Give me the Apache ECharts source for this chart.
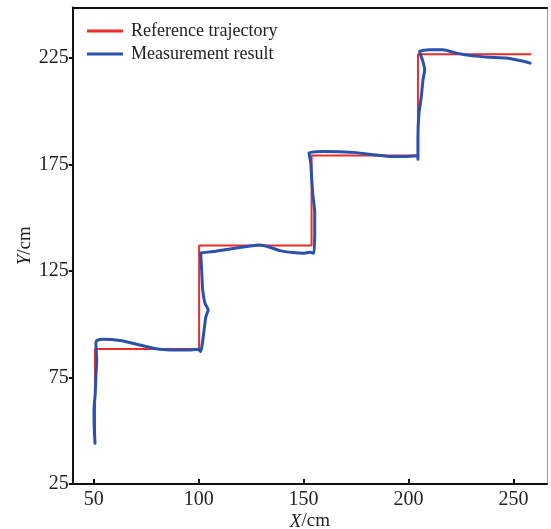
<!DOCTYPE html>
<html>
<head>
<meta charset="utf-8">
<script src="https://cdn.jsdelivr.net/npm/echarts@6/dist/echarts.min.js"></script>
<style>html,body{margin:0;padding:0;background:#fff}#c{width:551px;height:529px}</style>
</head>
<body>
<div id="c"></div>
<script>
const xTicks = [50, 100, 150, 200, 250];
const yTicks = [25, 75, 125, 175, 225];
const seriesNames = ['Reference trajectory', 'Measurement result'];
const referenceX = [50.6, 50.6, 100.2, 100.2, 153.8, 153.8, 204.5, 204.5, 258.5];
const referenceY = [45, 88.3, 88.3, 136.9, 136.9, 179.1, 179.1, 226.7, 226.7];
const measuredX = [50.6, 50.2, 50.1, 50.7, 51.0, 51.4, 51.0, 51.4, 54.5, 62.5, 70.4, 78.3, 86.3, 94.2, 99.8, 100.9,
  103.4, 104.5, 103.0, 101.9, 101.4, 101.0, 101.4,
  106.9, 114.9, 122.8, 129.1, 133.9, 138.7, 145.0, 149.8, 153.0, 154.9,
  155.3, 155.3, 154.5, 153.9, 153.4, 152.6,
  159.3, 167.2, 175.2, 183.1, 191.0, 199.0, 204.5, 204.5,
  204.5, 205.0, 206.1, 206.9, 207.7, 206.6, 205.3,
  210.1, 216.4, 222.8, 230.7, 238.7, 246.6, 252.9, 258.0];
const measuredY = [44.1, 51.9, 59.7, 67.6, 75.4, 83.2, 91.1, 92.3, 92.9, 92.3, 90.6, 88.7, 87.9, 87.9, 88.2, 87.1,
  103.5, 106.7, 109.8, 116.1, 125.5, 133.3, 133.5,
  134.1, 135.3, 136.4, 137.1, 136.1, 134.5, 133.6, 133.3, 133.8, 133.3,
  144.2, 152.8, 159.9, 167.7, 175.6, 180.3,
  181.0, 180.9, 180.5, 179.5, 178.7, 178.7, 179.0, 177.4,
  188.1, 199.0, 206.8, 214.7, 219.4, 224.1, 228.0,
  228.8, 228.8, 227.2, 225.9, 225.3, 224.9, 223.7, 222.5];

const zip = (a, b) => a.map((v, i) => [v, b[i]]);
const FONT = 'Liberation Serif';
const chart = echarts.init(document.getElementById('c'), null, {renderer: 'canvas'});
chart.setOption({
  animation: false,
  backgroundColor: '#fff',
  textStyle: {fontFamily: FONT},
  grid: {left: 72.8, right: 4, top: 7.5, bottom: 45, containLabel: false, outerBoundsMode: 'none'},
  legend: {
    left: 87, top: 22, padding: 0, orient: 'vertical', itemWidth: 36, itemHeight: 3, itemGap: 5,
    icon: 'rect',
    data: seriesNames,
    textStyle: {fontFamily: FONT, fontSize: 18, color: '#222', padding: [0, 0, 0, 3]}
  },
  xAxis: [{
    type: 'value', min: 40, max: 266, position: 'bottom',
    name: '{i|X}/cm', nameLocation: 'middle', nameGap: 28, nameMoveOverlap: false,
    nameTextStyle: {fontFamily: FONT, fontSize: 19, color: '#222', rich: {i: {fontStyle: 'italic', fontFamily: FONT, fontSize: 19, color: '#222'}}},
    axisLine: {show: true, onZero: false, lineStyle: {color: '#111', width: 2}},
    axisTick: {show: true, inside: true, length: 5, customValues: xTicks, lineStyle: {color: '#111', width: 2}},
    axisLabel: {customValues: xTicks, fontFamily: FONT, fontSize: 20, color: '#222', margin: 6},
    splitLine: {show: false}
  }, {
    type: 'value', min: 40, max: 266, position: 'top',
    axisLine: {show: true, onZero: false, lineStyle: {color: '#111', width: 2}},
    axisTick: {show: false}, axisLabel: {show: false}, splitLine: {show: false}
  }],
  yAxis: [{
    type: 'value', min: 25, max: 248.6, position: 'left',
    name: '{i|Y}/cm', nameLocation: 'middle', nameGap: 38, nameRotate: 90, nameMoveOverlap: false,
    nameTextStyle: {fontFamily: FONT, fontSize: 19, color: '#222', rich: {i: {fontStyle: 'italic', fontFamily: FONT, fontSize: 19, color: '#222'}}},
    axisLine: {show: true, onZero: false, lineStyle: {color: '#111', width: 2}},
    axisTick: {show: true, inside: false, length: 4, customValues: yTicks, lineStyle: {color: '#111', width: 2}},
    axisLabel: {customValues: yTicks, fontFamily: FONT, fontSize: 20, color: '#222', margin: 4},
    splitLine: {show: false}
  }, {
    type: 'value', min: 25, max: 248.6, position: 'right',
    axisLine: {show: true, onZero: false, lineStyle: {color: '#999', width: 1}},
    axisTick: {show: false}, axisLabel: {show: false}, splitLine: {show: false}
  }],
  series: [{
    name: seriesNames[0], type: 'line', data: zip(referenceX, referenceY),
    showSymbol: false, symbol: 'none', color: '#ee2b2b',
    lineStyle: {color: '#ee2b2b', width: 2}
  }, {
    name: seriesNames[1], type: 'line', data: zip(measuredX, measuredY),
    showSymbol: false, symbol: 'none', smooth: 0.2, color: '#2a52ad',
    lineStyle: {color: '#2a52ad', width: 3, cap: 'round', join: 'round'}
  }]
});
</script>
</body>
</html>
